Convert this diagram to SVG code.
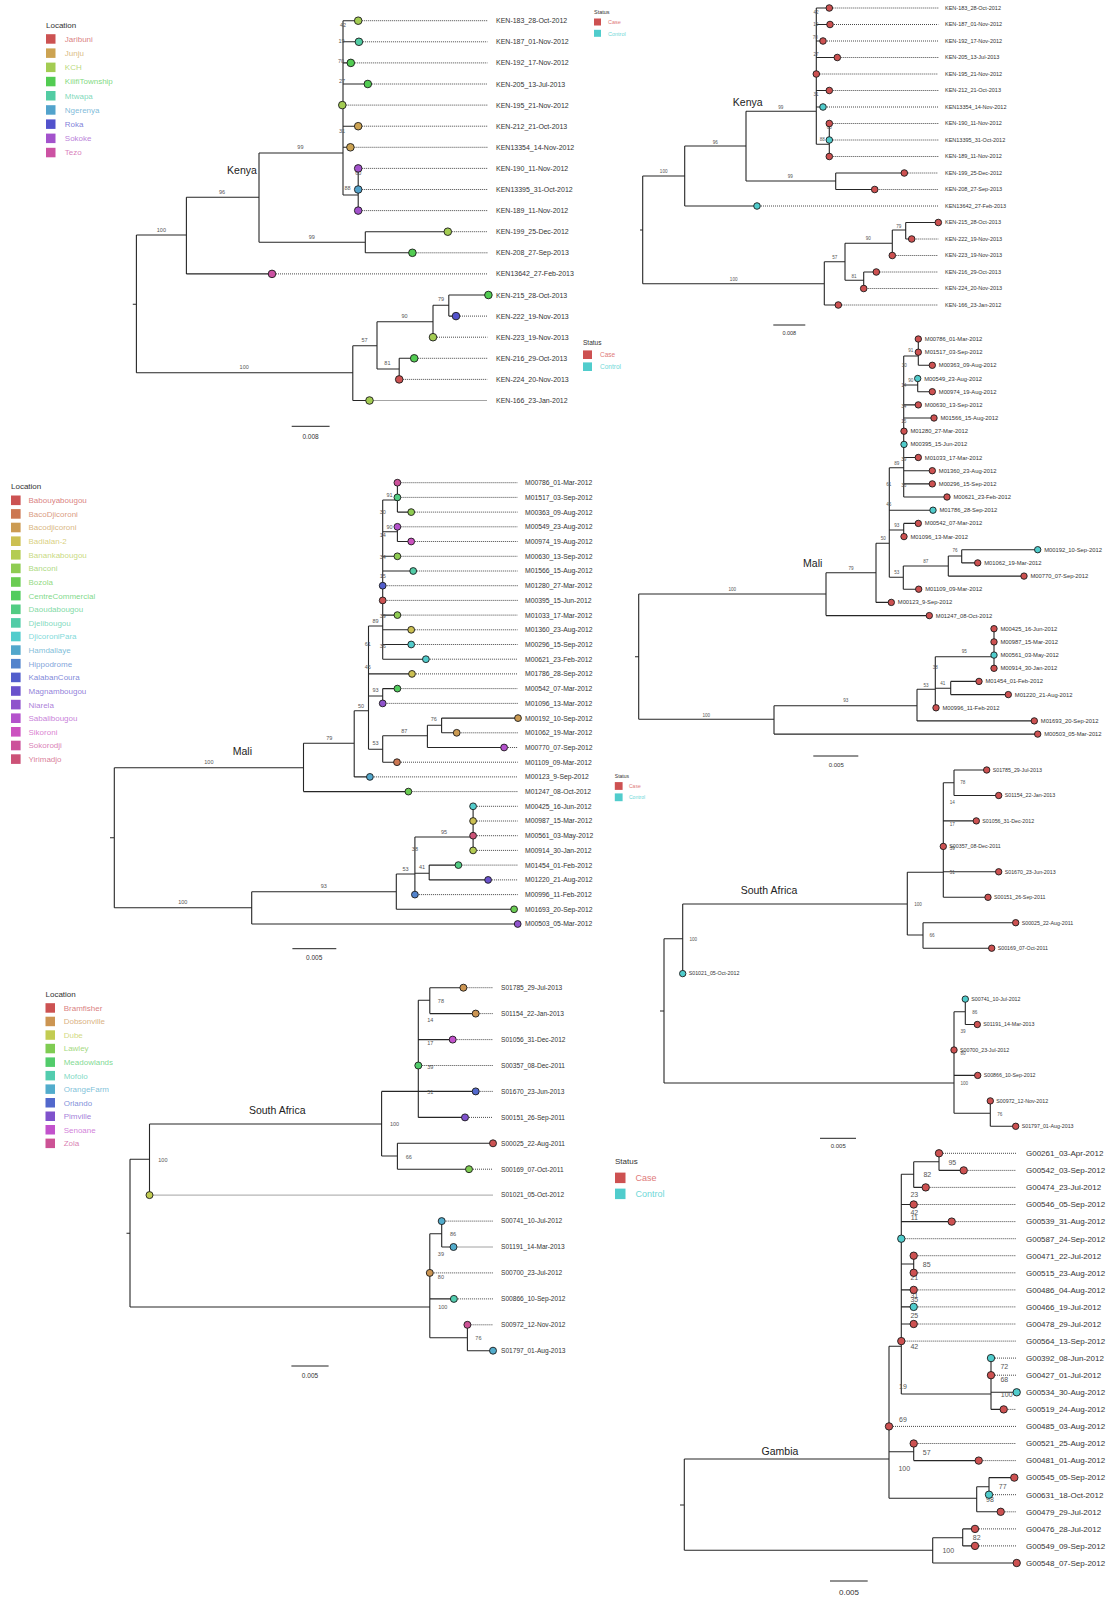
<svg xmlns="http://www.w3.org/2000/svg" width="1109" height="1600" viewBox="0 0 1109 1600">
<style>
text{font-family:"Liberation Sans",Arial,sans-serif}
.br{fill:none;stroke:#262626;stroke-width:1.1}
.dt{fill:none;stroke:#333;stroke-width:0.9;stroke-dasharray:1 1}
circle{stroke:#1a1a1a;stroke-width:0.9}
.tk{font-size:7px;fill:#333}
.tkr{font-size:5.5px;fill:#333}
.tm{font-size:6.8px;fill:#333}
.tmr{font-size:5.8px;fill:#333}
.ts{font-size:6.6px;fill:#333}
.tsr{font-size:5.3px;fill:#333}
.tg{font-size:8px;fill:#333}
.bl{fill:#555;text-anchor:middle;font-size:5.5px}
.bls{fill:#555;text-anchor:middle;font-size:4.6px}
.blg{fill:#555;text-anchor:middle;font-size:7px}
.cl{font-size:10.5px;fill:#222;text-anchor:middle}
.sc{fill:none;stroke:#222;stroke-width:1}
.lgt{font-size:8px;fill:#333}
.lg{font-size:8px;fill-opacity:0.75}
.cs{fill:#cd5151}.ct{fill:#50cccc}
.tcs{fill:#e07a7a}.tct{fill:#6fd8d8}
.k0{fill:#cc5252}.k1{fill:#cca352}.k2{fill:#a3cc52}.k3{fill:#52cc52}.k4{fill:#52cca3}.k5{fill:#52a3cc}.k6{fill:#5252cc}.k7{fill:#a352cc}.k8{fill:#cc52a3}
.m0{fill:#cc5252}.m1{fill:#cc7752}.m2{fill:#cc9b52}.m3{fill:#ccc052}.m4{fill:#b4cc52}.m5{fill:#8fcc52}.m6{fill:#6acc52}.m7{fill:#52cc5e}.m8{fill:#52cc83}.m9{fill:#52cca7}.m10{fill:#52cccc}.m11{fill:#52a7cc}.m12{fill:#5283cc}.m13{fill:#525ecc}.m14{fill:#6a52cc}.m15{fill:#8f52cc}.m16{fill:#b452cc}.m17{fill:#cc52c0}.m18{fill:#cc529b}.m19{fill:#cc5277}
.s0{fill:#cc5252}.s1{fill:#cc9552}.s2{fill:#c2cc52}.s3{fill:#7fcc52}.s4{fill:#52cc6b}.s5{fill:#52ccae}.s6{fill:#52accc}.s7{fill:#5268cc}.s8{fill:#7f52cc}.s9{fill:#c252cc}.s10{fill:#cc5295}
</style>
<rect width="1109" height="1600" fill="#fff"/>

<!-- ===== Legends ===== -->
<g id="legend-kenya-location">
<text class="lgt" x="46" y="28">Location</text>
<rect class="k0" x="46" y="34.2" width="9.5" height="9.5"/><text class="lg k0" x="64.8" y="41.8">Jaribuni</text>
<rect class="k1" x="46" y="48.4" width="9.5" height="9.5"/><text class="lg k1" x="64.8" y="56">Junju</text>
<rect class="k2" x="46" y="62.6" width="9.5" height="9.5"/><text class="lg k2" x="64.8" y="70.2">KCH</text>
<rect class="k3" x="46" y="76.8" width="9.5" height="9.5"/><text class="lg k3" x="64.8" y="84.4">KilifiTownship</text>
<rect class="k4" x="46" y="91" width="9.5" height="9.5"/><text class="lg k4" x="64.8" y="98.6">Mtwapa</text>
<rect class="k5" x="46" y="105.2" width="9.5" height="9.5"/><text class="lg k5" x="64.8" y="112.8">Ngerenya</text>
<rect class="k6" x="46" y="119.4" width="9.5" height="9.5"/><text class="lg k6" x="64.8" y="127">Roka</text>
<rect class="k7" x="46" y="133.6" width="9.5" height="9.5"/><text class="lg k7" x="64.8" y="141.2">Sokoke</text>
<rect class="k8" x="46" y="147.8" width="9.5" height="9.5"/><text class="lg k8" x="64.8" y="155.4">Tezo</text>
</g>
<g id="legend-status-1">
<text x="594" y="14" style="font-size:5.5px;fill:#333">Status</text>
<rect class="cs" x="594" y="18.5" width="7" height="7"/><text class="tcs" x="608" y="24.3" style="font-size:5.5px">Case</text>
<rect class="ct" x="594" y="29.8" width="7" height="7"/><text class="tct" x="608" y="35.6" style="font-size:5.5px">Control</text>
</g>
<g id="legend-status-2">
<text x="583" y="345" style="font-size:6.5px;fill:#333">Status</text>
<rect class="cs" x="583" y="350.4" width="9" height="8.6"/><text class="tcs" x="600" y="357" style="font-size:6.5px">Case</text>
<rect class="ct" x="583" y="362.4" width="9" height="8.6"/><text class="tct" x="600" y="369" style="font-size:6.5px">Control</text>
</g>
<g id="legend-mali-location">
<text class="lgt" x="11" y="489">Location</text>
<rect class="m0" x="11" y="495.5" width="9.6" height="9.6"/><text class="lg m0" x="28.5" y="503.2">Babouyabougou</text>
<rect class="m1" x="11" y="509.1" width="9.6" height="9.6"/><text class="lg m1" x="28.5" y="516.8">BacoDjicoroni</text>
<rect class="m2" x="11" y="522.7" width="9.6" height="9.6"/><text class="lg m2" x="28.5" y="530.4">Bacodjicoroni</text>
<rect class="m3" x="11" y="536.4" width="9.6" height="9.6"/><text class="lg m3" x="28.5" y="544.1">Badialan-2</text>
<rect class="m4" x="11" y="550" width="9.6" height="9.6"/><text class="lg m4" x="28.5" y="557.7">Banankabougou</text>
<rect class="m5" x="11" y="563.6" width="9.6" height="9.6"/><text class="lg m5" x="28.5" y="571.3">Banconi</text>
<rect class="m6" x="11" y="577.2" width="9.6" height="9.6"/><text class="lg m6" x="28.5" y="584.9">Bozola</text>
<rect class="m7" x="11" y="590.8" width="9.6" height="9.6"/><text class="lg m7" x="28.5" y="598.5">CentreCommercial</text>
<rect class="m8" x="11" y="604.5" width="9.6" height="9.6"/><text class="lg m8" x="28.5" y="612.2">Daoudabougou</text>
<rect class="m9" x="11" y="618.1" width="9.6" height="9.6"/><text class="lg m9" x="28.5" y="625.8">Djelibougou</text>
<rect class="m10" x="11" y="631.7" width="9.6" height="9.6"/><text class="lg m10" x="28.5" y="639.4">DjicoroniPara</text>
<rect class="m11" x="11" y="645.3" width="9.6" height="9.6"/><text class="lg m11" x="28.5" y="653">Hamdallaye</text>
<rect class="m12" x="11" y="658.9" width="9.6" height="9.6"/><text class="lg m12" x="28.5" y="666.6">Hippodrome</text>
<rect class="m13" x="11" y="672.6" width="9.6" height="9.6"/><text class="lg m13" x="28.5" y="680.3">KalabanCoura</text>
<rect class="m14" x="11" y="686.2" width="9.6" height="9.6"/><text class="lg m14" x="28.5" y="693.9">Magnambougou</text>
<rect class="m15" x="11" y="699.8" width="9.6" height="9.6"/><text class="lg m15" x="28.5" y="707.5">Niarela</text>
<rect class="m16" x="11" y="713.4" width="9.6" height="9.6"/><text class="lg m16" x="28.5" y="721.1">Sabalibougou</text>
<rect class="m17" x="11" y="727" width="9.6" height="9.6"/><text class="lg m17" x="28.5" y="734.7">Sikoroni</text>
<rect class="m18" x="11" y="740.7" width="9.6" height="9.6"/><text class="lg m18" x="28.5" y="748.4">Sokorodji</text>
<rect class="m19" x="11" y="754.3" width="9.6" height="9.6"/><text class="lg m19" x="28.5" y="762">Yirimadjo</text>
</g>
<g id="legend-status-3">
<text x="614.8" y="777.8" style="font-size:5px;fill:#333">Status</text>
<rect class="cs" x="614.8" y="782.1" width="7.8" height="7.8"/><text class="tcs" x="629" y="787.8" style="font-size:5px">Case</text>
<rect class="ct" x="614.8" y="793.4" width="7.8" height="7.8"/><text class="tct" x="629" y="799.1" style="font-size:5px">Control</text>
</g>
<g id="legend-sa-location">
<text class="lgt" x="45.5" y="997">Location</text>
<rect class="s0" x="45.5" y="1003.2" width="9.5" height="9.5"/><text class="lg s0" x="63.7" y="1010.8">Bramfisher</text>
<rect class="s1" x="45.5" y="1016.7" width="9.5" height="9.5"/><text class="lg s1" x="63.7" y="1024.3">Dobsonville</text>
<rect class="s2" x="45.5" y="1030.3" width="9.5" height="9.5"/><text class="lg s2" x="63.7" y="1037.9">Dube</text>
<rect class="s3" x="45.5" y="1043.8" width="9.5" height="9.5"/><text class="lg s3" x="63.7" y="1051.4">Lawley</text>
<rect class="s4" x="45.5" y="1057.4" width="9.5" height="9.5"/><text class="lg s4" x="63.7" y="1065">Meadowlands</text>
<rect class="s5" x="45.5" y="1070.9" width="9.5" height="9.5"/><text class="lg s5" x="63.7" y="1078.5">Mofolo</text>
<rect class="s6" x="45.5" y="1084.4" width="9.5" height="9.5"/><text class="lg s6" x="63.7" y="1092">OrangeFarm</text>
<rect class="s7" x="45.5" y="1098" width="9.5" height="9.5"/><text class="lg s7" x="63.7" y="1105.6">Orlando</text>
<rect class="s8" x="45.5" y="1111.5" width="9.5" height="9.5"/><text class="lg s8" x="63.7" y="1119.1">Pimville</text>
<rect class="s9" x="45.5" y="1125" width="9.5" height="9.5"/><text class="lg s9" x="63.7" y="1132.6">Senoane</text>
<rect class="s10" x="45.5" y="1138.6" width="9.5" height="9.5"/><text class="lg s10" x="63.7" y="1146.2">Zola</text>
</g>
<g id="legend-status-4">
<text x="615" y="1164" style="font-size:8px;fill:#333">Status</text>
<rect class="cs" x="615" y="1172.6" width="10.5" height="10.5"/><text class="tcs" x="635.6" y="1180.9" style="font-size:9px">Case</text>
<rect class="ct" x="615" y="1188.6" width="10.5" height="10.5"/><text class="tct" x="635.6" y="1196.9" style="font-size:9px">Control</text>
</g>

<!-- ===== Connectors (branches) ===== -->
<g id="connectors">
<path class="br" d="M132.8 304.3H136.4M136.4 235V372.7M136.4 235H186.4M186.4 197.3V273.9M186.4 197.3H259M186.4 273.9H272M259 153V242.3M259 153H343M259 242.3H365.3M365.3 231.7V252.8M365.3 231.7H447.8M365.3 252.8H412.4M343 20.7V195M343 20.7H358.2M343 41.8H358.9M343 62.9H350.8M343 84H367.8M343 126.2H358.2M343 147.3H350.4M343 195H358.2M358.2 168.4V210.6M136.4 372.7H352.8M352.8 345.7V400.5M352.8 345.7H377M352.8 400.5H369.5M377 321.7V369M377 321.7H433M377 369H399.2M433 305.3V337.2M433 305.3H448.8M448.8 295V316.1M448.8 295H488.4M448.8 316.1H456M399.2 358.3V379.4M399.2 358.3H414.2"/>
<path class="br" d="M640 230H642.7M642.7 176V283.7M642.7 176H684.7M684.7 146V206M684.7 146H746M684.7 206H757M746 111.3V181M746 111.3H816.3M746 181H835.7M835.7 173V189.5M835.7 173H904.3M835.7 189.5H874.7M816.3 8V144.3M816.3 8H829.3M816.3 24.5H830M816.3 41H823M816.3 57.5H837.3M816.3 90.5H829.3M816.3 107H823M816.3 144.3H829.3M829.3 123.5V156.5M642.7 283.7H824.3M824.3 261.7V305M824.3 261.7H845M824.3 305H838.3M845 243.3V280.3M845 243.3H892.3M845 280.3H863.7M892.3 230V255.5M892.3 230H905.7M905.7 222.5V239M905.7 222.5H938.3M905.7 239H911.7M863.7 272V288.5M863.7 272H876.3"/>
<path class="br" d="M110 837.7H114.3M114.3 767.7V907.7M114.3 767.7H303.5M303.5 743.3V791.6M303.5 743.3H354.2M303.5 791.6H408.4M354.2 710.7V776.9M354.2 710.7H368.5M354.2 776.9H369.9M368.5 626V749.3M368.5 626H382.7M368.5 673.9H412M368.5 696H382.7M382.7 688.6V703.4M382.7 688.6H397.4M368.5 749.3H382.7M382.7 735.7V762.2M382.7 735.7H427.4M382.7 762.2H397M427.4 725.2V747.5M427.4 725.2H441.6M427.4 747.5H504.1M441.6 718.1V732.8M441.6 718.1H518M441.6 732.8H456.7M382.7 500V659.2M382.7 500H397.4M397.4 482.7V512.1M397.4 512.1H411.2M382.7 531.7H397.4M397.4 526.8V541.5M397.4 541.5H411.2M382.7 556.3H397.4M382.7 571H413.2M382.7 615.1H397.4M382.7 629.8H411.2M382.7 644.5H411.2M382.7 659.2H425.9M114.3 907.7H251.7M251.7 891.7V924M251.7 891.7H396.3M251.7 924H517.7M396.3 874V909.3M396.3 874H414.9M396.3 909.3H514.1M414.9 837V894.6M414.9 837H473.1M473.1 806.3V850.4M414.9 873.3H429.2M429.2 865.1V879.9M429.2 865.1H458.4M429.2 879.9H488.1"/>
<path class="br" d="M635 656.7H638.7M638.7 594V719.3M638.7 594H826M826 572.7V615.6M826 572.7H876M826 615.6H929.3M876 543.3V602.4M876 543.3H889.3M876 602.4H891.3M889.3 467.7V577.3M889.3 467.7H903.7M889.3 510.2H933M889.3 530H903.7M903.7 523.4V536.6M903.7 523.4H918.3M889.3 577.3H903.3M903.3 566V589.2M903.3 566H948.3M903.3 589.2H918.7M948.3 556V576.1M948.3 556H961.7M948.3 576.1H1024M961.7 549.7V562.9M961.7 549.7H1037.7M961.7 562.9H977.7M903.7 356V497M903.7 356H918.3M918.3 339V365.3M918.3 365.3H932.3M903.7 385H917.7M917.7 378.5V391.7M917.7 391.7H932.3M903.7 404.9H918.3M903.7 418H934M903.7 457.5H918.3M903.7 470.7H932.3M903.7 483.9H932.3M903.7 497H947M638.7 719.3H774M774 705.7V734.1M774 705.7H917M774 734.1H1037.7M917 689.3V720.9M917 689.3H935.3M917 720.9H1034.3M935.3 656.7V707.8M935.3 656.7H994M994 628.7V668.3M935.3 688.3H950.7M950.7 681.4V694.6M950.7 681.4H979M950.7 694.6H1008.3"/>
<path class="br" d="M126.5 1233.3H130M130 1159.3V1307M130 1159.3H149.5M149.5 1124V1195.1M149.5 1124H381.6M381.6 1091.4V1156M381.6 1091.4H418.3M381.6 1156H397.4M397.4 1143.3V1169.2M397.4 1143.3H493M397.4 1169.2H469M418.3 1000.3V1117.4M418.3 1000.3H429.8M429.8 987.7V1013.6M429.8 987.7H463.4M429.8 1013.6H475.7M418.3 1039.6H452.7M418.3 1091.4H475.7M418.3 1117.4H465M130 1307H429.8M429.8 1233.7V1337.7M429.8 1233.7H441.7M441.7 1221.1V1247M441.7 1247H453.5M429.8 1298.9H453.9M429.8 1337.7H467.4M467.4 1324.8V1350.7M467.4 1350.7H493"/>
<path class="br" d="M660 1011H664M664 938.7V1083M664 938.7H682.7M682.7 904V973.6M682.7 904H907.3M907.3 872.3V935M907.3 872.3H943.3M907.3 935H923M923 922.7V948.2M923 922.7H1015.7M923 948.2H991.7M943.3 782.7V897.3M943.3 782.7H954M954 770V795.5M954 770H986.7M954 795.5H998.7M943.3 820.9H976.3M943.3 871.8H998.7M943.3 897.3H988M664 1083H954M954 1011.7V1113.3M954 1011.7H965.3M965.3 999.1V1024.5M965.3 1024.5H977.3M954 1075.4H977.7M954 1113.3H990.3M990.3 1100.9V1126.3M990.3 1126.3H1015.7"/>
<path class="br" d="M680 1505H684.3M684.3 1459V1550.3M684.3 1459H889M889 1346.3V1498.3M889 1346.3H901.3M889 1451.7H913.7M913.7 1443.5V1460.6M913.7 1460.6H978.7M889 1498.3H976.7M976.7 1486.7V1511.8M976.7 1486.7H989M989 1477.6V1494.7M989 1477.6H1014.3M976.7 1511.8H1000.7M901.3 1174.3V1394M901.3 1174.3H913.7M913.7 1161.7V1187.4M913.7 1161.7H939M939 1153.3V1170.4M939 1170.4H963.7M913.7 1187.4H925.7M901.3 1204.5H913.7M901.3 1221.6H951.7M901.3 1264H913.7M913.7 1255.7V1272.8M901.3 1289.9H913.7M901.3 1306.9H913.7M901.3 1324H913.7M901.3 1394H991M991 1358.1V1409.4M991 1392.3H1016.7M991 1409.4H1003.7M684.3 1550.3H932.7M932.7 1537.7V1563M932.7 1537.7H962.7M962.7 1528.9V1545.9M962.7 1528.9H975M962.7 1545.9H975M932.7 1563H1016.7"/>
</g>

<!-- ===== Branch labels, clade labels, scale bars ===== -->
<g id="kenyaL-annot">
<text class="bl" x="343" y="27.4">42</text><text class="bl" x="341.5" y="42.9">19</text><text class="bl" x="341" y="62.9">70</text><text class="bl" x="342" y="82.9">27</text><text class="bl" x="342" y="132.9">31</text><text class="bl" x="300.4" y="148.6">99</text><text class="bl" x="347.5" y="190.4">88</text><text class="bl" x="358.2" y="174.6">60</text><text class="bl" x="222" y="194.2">96</text><text class="bl" x="161.4" y="231.9">100</text><text class="bl" x="311.7" y="238.6">99</text><text class="bl" x="244.2" y="368.6">100</text><text class="bl" x="364.5" y="341.9">57</text><text class="bl" x="404.5" y="317.9">90</text><text class="bl" x="441" y="301.2">79</text><text class="bl" x="387.4" y="364.9">81</text>
<text class="cl" x="242" y="173.8">Kenya</text>
<path class="sc" d="M291.7 426.3H329.6"/><text x="310.6" y="439" style="font-size:6.5px;fill:#333;text-anchor:middle">0.008</text>
</g>
<g id="kenyaR-annot">
<text class="bls" x="816" y="13.9">42</text><text class="bls" x="815.7" y="25.6">19</text><text class="bls" x="815.3" y="39.3">70</text><text class="bls" x="816" y="55.6">27</text><text class="bls" x="816" y="95.6">31</text><text class="bls" x="822.3" y="140.6">88</text><text class="bls" x="829.3" y="128.6">60</text><text class="bls" x="780.7" y="108.6">99</text><text class="bls" x="790.3" y="177.6">99</text><text class="bls" x="715.3" y="143.6">96</text><text class="bls" x="663.7" y="172.6">100</text><text class="bls" x="733.7" y="280.6">100</text><text class="bls" x="834.7" y="258.6">57</text><text class="bls" x="868.3" y="239.6">90</text><text class="bls" x="854" y="277.9">81</text><text class="bls" x="898.7" y="227.6">79</text>
<text class="cl" x="747.7" y="106">Kenya</text>
<path class="sc" d="M773.3 325H805.3"/><text x="789.3" y="334.7" style="font-size:5.5px;fill:#333;text-anchor:middle">0.008</text>
</g>
<g id="maliL-annot">
<text class="bl" x="389.5" y="496.9">91</text><text class="bl" x="382.7" y="513.6">30</text><text class="bl" x="389.5" y="529.2">90</text><text class="bl" x="382.7" y="536.9">14</text><text class="bl" x="382.7" y="559.2">34</text><text class="bl" x="382.7" y="577.9">15</text><text class="bl" x="382.7" y="617.9">39</text><text class="bl" x="375.6" y="622.9">89</text><text class="bl" x="382.7" y="647.6">36</text><text class="bl" x="367.7" y="646.2">61</text><text class="bl" x="367.7" y="668.6">45</text><text class="bl" x="375.6" y="691.9">93</text><text class="bl" x="361" y="707.9">50</text><text class="bl" x="433.7" y="721.2">76</text><text class="bl" x="404.2" y="732.9">87</text><text class="bl" x="375.6" y="744.6">53</text><text class="bl" x="329.2" y="739.6">79</text><text class="bl" x="208.9" y="763.9">100</text><text class="bl" x="182.8" y="903.9">100</text><text class="bl" x="323.8" y="887.6">93</text><text class="bl" x="405.6" y="870.9">53</text><text class="bl" x="444.1" y="834.2">95</text><text class="bl" x="414.9" y="850.9">38</text><text class="bl" x="422" y="868.6">41</text>
<text class="cl" x="242.4" y="755.4">Mali</text>
<path class="sc" d="M292.4 948.7H336.3"/><text x="314.2" y="959.8" style="font-size:6.5px;fill:#333;text-anchor:middle">0.005</text>
</g>
<g id="maliR-annot">
<text class="bls" x="910.7" y="351.6">91</text><text class="bls" x="904.3" y="366.6">30</text><text class="bls" x="910.7" y="381.6">90</text><text class="bls" x="903.7" y="386.6">14</text><text class="bls" x="903.7" y="407.6">34</text><text class="bls" x="903.7" y="423.3">15</text><text class="bls" x="903.7" y="460.9">39</text><text class="bls" x="896.7" y="464.9">89</text><text class="bls" x="903.7" y="486.6">36</text><text class="bls" x="888.7" y="485.6">61</text><text class="bls" x="888.7" y="505.9">45</text><text class="bls" x="896.7" y="526.6">93</text><text class="bls" x="883.3" y="539.9">50</text><text class="bls" x="955" y="552.3">76</text><text class="bls" x="925.7" y="562.6">87</text><text class="bls" x="896.7" y="573.9">53</text><text class="bls" x="851" y="569.6">79</text><text class="bls" x="732.3" y="590.6">100</text><text class="bls" x="706.3" y="716.6">100</text><text class="bls" x="845.7" y="701.6">93</text><text class="bls" x="926" y="686.6">53</text><text class="bls" x="935.3" y="668.9">38</text><text class="bls" x="964.3" y="652.6">95</text><text class="bls" x="942.7" y="684.9">41</text>
<text class="cl" x="812.7" y="567">Mali</text>
<path class="sc" d="M813.3 756H858.3"/><text x="836.3" y="766.7" style="font-size:6px;fill:#333;text-anchor:middle">0.005</text>
</g>
<g id="saL-annot">
<text class="bl" x="440.9" y="1002.6">78</text><text class="bl" x="430.2" y="1021.9">14</text><text class="bl" x="430.2" y="1044.6">17</text><text class="bl" x="430.2" y="1069.2">39</text><text class="bl" x="430.2" y="1094.2">51</text><text class="bl" x="394.6" y="1125.9">100</text><text class="bl" x="408.8" y="1158.9">66</text><text class="bl" x="162.9" y="1161.9">100</text><text class="bl" x="453.1" y="1235.9">86</text><text class="bl" x="440.9" y="1255.9">39</text><text class="bl" x="440.9" y="1278.6">80</text><text class="bl" x="442.8" y="1308.9">100</text><text class="bl" x="478.4" y="1339.6">76</text>
<text class="cl" x="277.2" y="1114.4">South Africa</text>
<path class="sc" d="M291.4 1366H328.6"/><text x="310" y="1377.6" style="font-size:6.5px;fill:#333;text-anchor:middle">0.005</text>
</g>
<g id="saR-annot">
<text class="bls" x="962.7" y="783.6">78</text><text class="bls" x="952.3" y="803.9">14</text><text class="bls" x="952.3" y="825.6">17</text><text class="bls" x="952.3" y="849.9">39</text><text class="bls" x="952.3" y="873.6">51</text><text class="bls" x="918" y="905.6">100</text><text class="bls" x="932" y="936.6">66</text><text class="bls" x="693.3" y="940.6">100</text><text class="bls" x="974.7" y="1013.9">86</text><text class="bls" x="963" y="1032.6">39</text><text class="bls" x="963" y="1054.9">80</text><text class="bls" x="964.3" y="1084.6">100</text><text class="bls" x="999.7" y="1115.6">76</text>
<text class="cl" x="769" y="893.7">South Africa</text>
<path class="sc" d="M820 1138.3H856"/><text x="838.3" y="1148" style="font-size:6px;fill:#333;text-anchor:middle">0.005</text>
</g>
<g id="gambia-annot">
<text class="blg" x="952.3" y="1164.7">95</text><text class="blg" x="927.3" y="1176.7">82</text><text class="blg" x="914.3" y="1197.1">23</text><text class="blg" x="914.3" y="1214.7">42</text><text class="blg" x="914.3" y="1219.7">11</text><text class="blg" x="926.7" y="1267.1">85</text><text class="blg" x="914.3" y="1279.7">21</text><text class="blg" x="914.3" y="1298.1">31</text><text class="blg" x="914.3" y="1301.7">35</text><text class="blg" x="914.3" y="1318.1">25</text><text class="blg" x="914.3" y="1349.1">42</text><text class="blg" x="1004.3" y="1368.7">72</text><text class="blg" x="1004.3" y="1381.7">68</text><text class="blg" x="1006.7" y="1397.1">100</text><text class="blg" x="903" y="1388.7">19</text><text class="blg" x="903" y="1422.1">69</text><text class="blg" x="926.7" y="1455.1">57</text><text class="blg" x="904.3" y="1471.4">100</text><text class="blg" x="1002.7" y="1489.1">77</text><text class="blg" x="990" y="1502.4">98</text><text class="blg" x="948.3" y="1553.1">100</text><text class="blg" x="976.7" y="1540.1">82</text>
<text class="cl" x="780" y="1455.4">Gambia</text>
<path class="sc" d="M830 1581H867.7"/><text x="849" y="1594.5" style="font-size:8px;fill:#333;text-anchor:middle">0.005</text>
</g>

<!-- ===== Kenya (location) tips ===== -->
<g id="kl-KEN-183"><path class="dt" d="M358.2 20.7H487.4"/><circle class="k2" cx="358.2" cy="20.7" r="3.8"/><text class="tk" x="496" y="23.2">KEN-183_28-Oct-2012</text></g>
<g id="kl-KEN-187"><path class="dt" d="M358.9 41.8H487.4"/><circle class="k4" cx="358.9" cy="41.8" r="3.8"/><text class="tk" x="496" y="44.3">KEN-187_01-Nov-2012</text></g>
<g id="kl-KEN-192"><path class="dt" d="M350.8 62.9H487.4"/><circle class="k3" cx="350.8" cy="62.9" r="3.8"/><text class="tk" x="496" y="65.4">KEN-192_17-Nov-2012</text></g>
<g id="kl-KEN-205"><path class="dt" d="M367.8 84H487.4"/><circle class="k3" cx="367.8" cy="84" r="3.8"/><text class="tk" x="496" y="86.5">KEN-205_13-Jul-2013</text></g>
<g id="kl-KEN-195"><path class="dt" d="M342.3 105.1H487.4"/><circle class="k2" cx="342.3" cy="105.1" r="3.8"/><text class="tk" x="496" y="107.6">KEN-195_21-Nov-2012</text></g>
<g id="kl-KEN-212"><path class="dt" d="M358.2 126.2H487.4"/><circle class="k1" cx="358.2" cy="126.2" r="3.8"/><text class="tk" x="496" y="128.7">KEN-212_21-Oct-2013</text></g>
<g id="kl-KEN13354"><path class="dt" d="M350.4 147.3H487.4"/><circle class="k1" cx="350.4" cy="147.3" r="3.8"/><text class="tk" x="496" y="149.8">KEN13354_14-Nov-2012</text></g>
<g id="kl-KEN-190"><path class="dt" d="M358.2 168.4H487.4"/><circle class="k7" cx="358.2" cy="168.4" r="3.8"/><text class="tk" x="496" y="170.9">KEN-190_11-Nov-2012</text></g>
<g id="kl-KEN13395"><path class="dt" d="M358.2 189.5H487.4"/><circle class="k5" cx="358.2" cy="189.5" r="3.8"/><text class="tk" x="496" y="192">KEN13395_31-Oct-2012</text></g>
<g id="kl-KEN-189"><path class="dt" d="M358.2 210.6H487.4"/><circle class="k7" cx="358.2" cy="210.6" r="3.8"/><text class="tk" x="496" y="213.1">KEN-189_11-Nov-2012</text></g>
<g id="kl-KEN-199"><path class="dt" d="M447.8 231.7H487.4"/><circle class="k2" cx="447.8" cy="231.7" r="3.8"/><text class="tk" x="496" y="234.2">KEN-199_25-Dec-2012</text></g>
<g id="kl-KEN-208"><path class="dt" d="M412.4 252.8H487.4"/><circle class="k3" cx="412.4" cy="252.8" r="3.8"/><text class="tk" x="496" y="255.3">KEN-208_27-Sep-2013</text></g>
<g id="kl-KEN13642"><path class="dt" d="M272 273.9H487.4"/><circle class="k8" cx="272" cy="273.9" r="3.8"/><text class="tk" x="496" y="276.4">KEN13642_27-Feb-2013</text></g>
<g id="kl-KEN-215"><circle class="k3" cx="488.4" cy="295" r="3.8"/><text class="tk" x="496" y="297.5">KEN-215_28-Oct-2013</text></g>
<g id="kl-KEN-222"><path class="dt" d="M456 316.1H487.4"/><circle class="k6" cx="456" cy="316.1" r="3.8"/><text class="tk" x="496" y="318.6">KEN-222_19-Nov-2013</text></g>
<g id="kl-KEN-223"><path class="dt" d="M433 337.2H487.4"/><circle class="k2" cx="433" cy="337.2" r="3.8"/><text class="tk" x="496" y="339.7">KEN-223_19-Nov-2013</text></g>
<g id="kl-KEN-216"><path class="dt" d="M414.2 358.3H487.4"/><circle class="k3" cx="414.2" cy="358.3" r="3.8"/><text class="tk" x="496" y="360.8">KEN-216_29-Oct-2013</text></g>
<g id="kl-KEN-224"><path class="dt" d="M399.2 379.4H487.4"/><circle class="k0" cx="399.2" cy="379.4" r="3.8"/><text class="tk" x="496" y="381.9">KEN-224_20-Nov-2013</text></g>
<g id="kl-KEN-166"><path class="dt" d="M369.5 400.5H487.4"/><circle class="k2" cx="369.5" cy="400.5" r="3.8"/><text class="tk" x="496" y="403">KEN-166_23-Jan-2012</text></g>

<!-- ===== Kenya (status) tips ===== -->
<g id="kr-KEN-183"><path class="dt" d="M829.3 8H938.3"/><circle class="cs" cx="829.3" cy="8" r="3.3"/><text class="tkr" x="945" y="9.9">KEN-183_28-Oct-2012</text></g>
<g id="kr-KEN-187"><path class="dt" d="M830 24.5H938.3"/><circle class="cs" cx="830" cy="24.5" r="3.3"/><text class="tkr" x="945" y="26.4">KEN-187_01-Nov-2012</text></g>
<g id="kr-KEN-192"><path class="dt" d="M823 41H938.3"/><circle class="cs" cx="823" cy="41" r="3.3"/><text class="tkr" x="945" y="42.9">KEN-192_17-Nov-2012</text></g>
<g id="kr-KEN-205"><path class="dt" d="M837.3 57.5H938.3"/><circle class="cs" cx="837.3" cy="57.5" r="3.3"/><text class="tkr" x="945" y="59.4">KEN-205_13-Jul-2013</text></g>
<g id="kr-KEN-195"><path class="dt" d="M816.3 74H938.3"/><circle class="cs" cx="816.3" cy="74" r="3.3"/><text class="tkr" x="945" y="75.9">KEN-195_21-Nov-2012</text></g>
<g id="kr-KEN-212"><path class="dt" d="M829.3 90.5H938.3"/><circle class="cs" cx="829.3" cy="90.5" r="3.3"/><text class="tkr" x="945" y="92.4">KEN-212_21-Oct-2013</text></g>
<g id="kr-KEN13354"><path class="dt" d="M823 107H938.3"/><circle class="ct" cx="823" cy="107" r="3.3"/><text class="tkr" x="945" y="108.9">KEN13354_14-Nov-2012</text></g>
<g id="kr-KEN-190"><path class="dt" d="M829.3 123.5H938.3"/><circle class="cs" cx="829.3" cy="123.5" r="3.3"/><text class="tkr" x="945" y="125.4">KEN-190_11-Nov-2012</text></g>
<g id="kr-KEN13395"><path class="dt" d="M829.3 140H938.3"/><circle class="ct" cx="829.3" cy="140" r="3.3"/><text class="tkr" x="945" y="141.9">KEN13395_31-Oct-2012</text></g>
<g id="kr-KEN-189"><path class="dt" d="M829.3 156.5H938.3"/><circle class="cs" cx="829.3" cy="156.5" r="3.3"/><text class="tkr" x="945" y="158.4">KEN-189_11-Nov-2012</text></g>
<g id="kr-KEN-199"><path class="dt" d="M904.3 173H938.3"/><circle class="cs" cx="904.3" cy="173" r="3.3"/><text class="tkr" x="945" y="174.9">KEN-199_25-Dec-2012</text></g>
<g id="kr-KEN-208"><path class="dt" d="M874.7 189.5H938.3"/><circle class="cs" cx="874.7" cy="189.5" r="3.3"/><text class="tkr" x="945" y="191.4">KEN-208_27-Sep-2013</text></g>
<g id="kr-KEN13642"><path class="dt" d="M757 206H938.3"/><circle class="ct" cx="757" cy="206" r="3.3"/><text class="tkr" x="945" y="207.9">KEN13642_27-Feb-2013</text></g>
<g id="kr-KEN-215"><circle class="cs" cx="938.3" cy="222.5" r="3.3"/><text class="tkr" x="945" y="224.4">KEN-215_28-Oct-2013</text></g>
<g id="kr-KEN-222"><path class="dt" d="M911.7 239H938.3"/><circle class="cs" cx="911.7" cy="239" r="3.3"/><text class="tkr" x="945" y="240.9">KEN-222_19-Nov-2013</text></g>
<g id="kr-KEN-223"><path class="dt" d="M892.3 255.5H938.3"/><circle class="cs" cx="892.3" cy="255.5" r="3.3"/><text class="tkr" x="945" y="257.4">KEN-223_19-Nov-2013</text></g>
<g id="kr-KEN-216"><path class="dt" d="M876.3 272H938.3"/><circle class="cs" cx="876.3" cy="272" r="3.3"/><text class="tkr" x="945" y="273.9">KEN-216_29-Oct-2013</text></g>
<g id="kr-KEN-224"><path class="dt" d="M863.7 288.5H938.3"/><circle class="cs" cx="863.7" cy="288.5" r="3.3"/><text class="tkr" x="945" y="290.4">KEN-224_20-Nov-2013</text></g>
<g id="kr-KEN-166"><path class="dt" d="M838.3 305H938.3"/><circle class="cs" cx="838.3" cy="305" r="3.3"/><text class="tkr" x="945" y="306.9">KEN-166_23-Jan-2012</text></g>

<!-- ===== Mali (location) tips ===== -->
<g id="ml-M00786"><path class="dt" d="M397.4 482.7H517.7"/><circle class="m18" cx="397.4" cy="482.7" r="3.4"/><text class="tm" x="525" y="485.1">M00786_01-Mar-2012</text></g>
<g id="ml-M01517"><path class="dt" d="M397.4 497.4H517.7"/><circle class="m8" cx="397.4" cy="497.4" r="3.4"/><text class="tm" x="525" y="499.8">M01517_03-Sep-2012</text></g>
<g id="ml-M00363"><path class="dt" d="M411.2 512.1H517.7"/><circle class="m5" cx="411.2" cy="512.1" r="3.4"/><text class="tm" x="525" y="514.5">M00363_09-Aug-2012</text></g>
<g id="ml-M00549"><path class="dt" d="M397.4 526.8H517.7"/><circle class="m16" cx="397.4" cy="526.8" r="3.4"/><text class="tm" x="525" y="529.2">M00549_23-Aug-2012</text></g>
<g id="ml-M00974"><path class="dt" d="M411.2 541.5H517.7"/><circle class="m17" cx="411.2" cy="541.5" r="3.4"/><text class="tm" x="525" y="543.9">M00974_19-Aug-2012</text></g>
<g id="ml-M00630"><path class="dt" d="M397.4 556.3H517.7"/><circle class="m5" cx="397.4" cy="556.3" r="3.4"/><text class="tm" x="525" y="558.7">M00630_13-Sep-2012</text></g>
<g id="ml-M01566"><path class="dt" d="M413.2 571H517.7"/><circle class="m9" cx="413.2" cy="571" r="3.4"/><text class="tm" x="525" y="573.4">M01566_15-Aug-2012</text></g>
<g id="ml-M01280"><path class="dt" d="M382.7 585.7H517.7"/><circle class="m13" cx="382.7" cy="585.7" r="3.4"/><text class="tm" x="525" y="588.1">M01280_27-Mar-2012</text></g>
<g id="ml-M00395"><path class="dt" d="M382.7 600.4H517.7"/><circle class="m0" cx="382.7" cy="600.4" r="3.4"/><text class="tm" x="525" y="602.8">M00395_15-Jun-2012</text></g>
<g id="ml-M01033"><path class="dt" d="M397.4 615.1H517.7"/><circle class="m5" cx="397.4" cy="615.1" r="3.4"/><text class="tm" x="525" y="617.5">M01033_17-Mar-2012</text></g>
<g id="ml-M01360"><path class="dt" d="M411.2 629.8H517.7"/><circle class="m3" cx="411.2" cy="629.8" r="3.4"/><text class="tm" x="525" y="632.2">M01360_23-Aug-2012</text></g>
<g id="ml-M00296"><path class="dt" d="M411.2 644.5H517.7"/><circle class="m10" cx="411.2" cy="644.5" r="3.4"/><text class="tm" x="525" y="646.9">M00296_15-Sep-2012</text></g>
<g id="ml-M00621"><path class="dt" d="M425.9 659.2H517.7"/><circle class="m10" cx="425.9" cy="659.2" r="3.4"/><text class="tm" x="525" y="661.6">M00621_23-Feb-2012</text></g>
<g id="ml-M01786"><path class="dt" d="M412 673.9H517.7"/><circle class="m3" cx="412" cy="673.9" r="3.4"/><text class="tm" x="525" y="676.3">M01786_28-Sep-2012</text></g>
<g id="ml-M00542"><path class="dt" d="M397.4 688.6H517.7"/><circle class="m7" cx="397.4" cy="688.6" r="3.4"/><text class="tm" x="525" y="691">M00542_07-Mar-2012</text></g>
<g id="ml-M01096"><path class="dt" d="M382.7 703.4H517.7"/><circle class="m15" cx="382.7" cy="703.4" r="3.4"/><text class="tm" x="525" y="705.8">M01096_13-Mar-2012</text></g>
<g id="ml-M00192"><circle class="m2" cx="518" cy="718.1" r="3.4"/><text class="tm" x="525" y="720.5">M00192_10-Sep-2012</text></g>
<g id="ml-M01062"><path class="dt" d="M456.7 732.8H517.7"/><circle class="m2" cx="456.7" cy="732.8" r="3.4"/><text class="tm" x="525" y="735.2">M01062_19-Mar-2012</text></g>
<g id="ml-M00770"><path class="dt" d="M504.1 747.5H517.7"/><circle class="m16" cx="504.1" cy="747.5" r="3.4"/><text class="tm" x="525" y="749.9">M00770_07-Sep-2012</text></g>
<g id="ml-M01109"><path class="dt" d="M397 762.2H517.7"/><circle class="m1" cx="397" cy="762.2" r="3.4"/><text class="tm" x="525" y="764.6">M01109_09-Mar-2012</text></g>
<g id="ml-M00123"><path class="dt" d="M369.9 776.9H517.7"/><circle class="m11" cx="369.9" cy="776.9" r="3.4"/><text class="tm" x="525" y="779.3">M00123_9-Sep-2012</text></g>
<g id="ml-M01247"><path class="dt" d="M408.4 791.6H517.7"/><circle class="m6" cx="408.4" cy="791.6" r="3.4"/><text class="tm" x="525" y="794">M01247_08-Oct-2012</text></g>
<g id="ml-M00425"><path class="dt" d="M473.1 806.3H517.7"/><circle class="m10" cx="473.1" cy="806.3" r="3.4"/><text class="tm" x="525" y="808.7">M00425_16-Jun-2012</text></g>
<g id="ml-M00987"><path class="dt" d="M473.1 821H517.7"/><circle class="m3" cx="473.1" cy="821" r="3.4"/><text class="tm" x="525" y="823.4">M00987_15-Mar-2012</text></g>
<g id="ml-M00561"><path class="dt" d="M473.1 835.7H517.7"/><circle class="m19" cx="473.1" cy="835.7" r="3.4"/><text class="tm" x="525" y="838.1">M00561_03-May-2012</text></g>
<g id="ml-M00914"><path class="dt" d="M473.1 850.4H517.7"/><circle class="m4" cx="473.1" cy="850.4" r="3.4"/><text class="tm" x="525" y="852.8">M00914_30-Jan-2012</text></g>
<g id="ml-M01454"><path class="dt" d="M458.4 865.1H517.7"/><circle class="m8" cx="458.4" cy="865.1" r="3.4"/><text class="tm" x="525" y="867.5">M01454_01-Feb-2012</text></g>
<g id="ml-M01220"><path class="dt" d="M488.1 879.9H517.7"/><circle class="m14" cx="488.1" cy="879.9" r="3.4"/><text class="tm" x="525" y="882.3">M01220_21-Aug-2012</text></g>
<g id="ml-M00996"><path class="dt" d="M414.9 894.6H517.7"/><circle class="m12" cx="414.9" cy="894.6" r="3.4"/><text class="tm" x="525" y="897">M00996_11-Feb-2012</text></g>
<g id="ml-M01693"><path class="dt" d="M514.1 909.3H517.7"/><circle class="m6" cx="514.1" cy="909.3" r="3.4"/><text class="tm" x="525" y="911.7">M01693_20-Sep-2012</text></g>
<g id="ml-M00503"><circle class="m15" cx="517.7" cy="924" r="3.4"/><text class="tm" x="525" y="926.4">M00503_05-Mar-2012</text></g>

<!-- ===== Mali (status) tips ===== -->
<g id="mr-M00786"><circle class="cs" cx="918.3" cy="339" r="3.2"/><text class="tmr" x="924.8" y="341">M00786_01-Mar-2012</text></g>
<g id="mr-M01517"><circle class="cs" cx="918.3" cy="352.2" r="3.2"/><text class="tmr" x="924.8" y="354.2">M01517_03-Sep-2012</text></g>
<g id="mr-M00363"><circle class="cs" cx="932.3" cy="365.3" r="3.2"/><text class="tmr" x="938.8" y="367.3">M00363_09-Aug-2012</text></g>
<g id="mr-M00549"><circle class="ct" cx="917.7" cy="378.5" r="3.2"/><text class="tmr" x="924.2" y="380.5">M00549_23-Aug-2012</text></g>
<g id="mr-M00974"><circle class="cs" cx="932.3" cy="391.7" r="3.2"/><text class="tmr" x="938.8" y="393.7">M00974_19-Aug-2012</text></g>
<g id="mr-M00630"><circle class="cs" cx="918.3" cy="404.9" r="3.2"/><text class="tmr" x="924.8" y="406.9">M00630_13-Sep-2012</text></g>
<g id="mr-M01566"><circle class="cs" cx="934" cy="418" r="3.2"/><text class="tmr" x="940.5" y="420">M01566_15-Aug-2012</text></g>
<g id="mr-M01280"><circle class="cs" cx="904" cy="431.2" r="3.2"/><text class="tmr" x="910.5" y="433.2">M01280_27-Mar-2012</text></g>
<g id="mr-M00395"><circle class="ct" cx="904" cy="444.4" r="3.2"/><text class="tmr" x="910.5" y="446.4">M00395_15-Jun-2012</text></g>
<g id="mr-M01033"><circle class="cs" cx="918.3" cy="457.5" r="3.2"/><text class="tmr" x="924.8" y="459.5">M01033_17-Mar-2012</text></g>
<g id="mr-M01360"><circle class="cs" cx="932.3" cy="470.7" r="3.2"/><text class="tmr" x="938.8" y="472.7">M01360_23-Aug-2012</text></g>
<g id="mr-M00296"><circle class="cs" cx="932.3" cy="483.9" r="3.2"/><text class="tmr" x="938.8" y="485.9">M00296_15-Sep-2012</text></g>
<g id="mr-M00621"><circle class="cs" cx="947" cy="497" r="3.2"/><text class="tmr" x="953.5" y="499">M00621_23-Feb-2012</text></g>
<g id="mr-M01786"><circle class="ct" cx="933" cy="510.2" r="3.2"/><text class="tmr" x="939.5" y="512.2">M01786_28-Sep-2012</text></g>
<g id="mr-M00542"><circle class="cs" cx="918.3" cy="523.4" r="3.2"/><text class="tmr" x="924.8" y="525.4">M00542_07-Mar-2012</text></g>
<g id="mr-M01096"><circle class="cs" cx="904" cy="536.6" r="3.2"/><text class="tmr" x="910.5" y="538.6">M01096_13-Mar-2012</text></g>
<g id="mr-M00192"><circle class="ct" cx="1037.7" cy="549.7" r="3.2"/><text class="tmr" x="1044.2" y="551.7">M00192_10-Sep-2012</text></g>
<g id="mr-M01062"><circle class="cs" cx="977.7" cy="562.9" r="3.2"/><text class="tmr" x="984.2" y="564.9">M01062_19-Mar-2012</text></g>
<g id="mr-M00770"><circle class="cs" cx="1024" cy="576.1" r="3.2"/><text class="tmr" x="1030.5" y="578.1">M00770_07-Sep-2012</text></g>
<g id="mr-M01109"><circle class="cs" cx="918.7" cy="589.2" r="3.2"/><text class="tmr" x="925.2" y="591.2">M01109_09-Mar-2012</text></g>
<g id="mr-M00123"><circle class="cs" cx="891.3" cy="602.4" r="3.2"/><text class="tmr" x="897.8" y="604.4">M00123_9-Sep-2012</text></g>
<g id="mr-M01247"><circle class="cs" cx="929.3" cy="615.6" r="3.2"/><text class="tmr" x="935.8" y="617.6">M01247_08-Oct-2012</text></g>
<g id="mr-M00425"><circle class="cs" cx="994" cy="628.7" r="3.2"/><text class="tmr" x="1000.5" y="630.7">M00425_16-Jun-2012</text></g>
<g id="mr-M00987"><circle class="cs" cx="994" cy="641.9" r="3.2"/><text class="tmr" x="1000.5" y="643.9">M00987_15-Mar-2012</text></g>
<g id="mr-M00561"><circle class="ct" cx="994" cy="655.1" r="3.2"/><text class="tmr" x="1000.5" y="657.1">M00561_03-May-2012</text></g>
<g id="mr-M00914"><circle class="cs" cx="994" cy="668.3" r="3.2"/><text class="tmr" x="1000.5" y="670.3">M00914_30-Jan-2012</text></g>
<g id="mr-M01454"><circle class="cs" cx="979" cy="681.4" r="3.2"/><text class="tmr" x="985.5" y="683.4">M01454_01-Feb-2012</text></g>
<g id="mr-M01220"><circle class="cs" cx="1008.3" cy="694.6" r="3.2"/><text class="tmr" x="1014.8" y="696.6">M01220_21-Aug-2012</text></g>
<g id="mr-M00996"><circle class="cs" cx="936" cy="707.8" r="3.2"/><text class="tmr" x="942.5" y="709.8">M00996_11-Feb-2012</text></g>
<g id="mr-M01693"><circle class="cs" cx="1034.3" cy="720.9" r="3.2"/><text class="tmr" x="1040.8" y="722.9">M01693_20-Sep-2012</text></g>
<g id="mr-M00503"><circle class="cs" cx="1037.7" cy="734.1" r="3.2"/><text class="tmr" x="1044.2" y="736.1">M00503_05-Mar-2012</text></g>

<!-- ===== South Africa (location) tips ===== -->
<g id="sl-S01785"><path class="dt" d="M463.4 987.7H493"/><circle class="s1" cx="463.4" cy="987.7" r="3.5"/><text class="ts" x="501" y="990">S01785_29-Jul-2013</text></g>
<g id="sl-S01154"><path class="dt" d="M475.7 1013.6H493"/><circle class="s1" cx="475.7" cy="1013.6" r="3.5"/><text class="ts" x="501" y="1015.9">S01154_22-Jan-2013</text></g>
<g id="sl-S01056"><path class="dt" d="M452.7 1039.6H493"/><circle class="s9" cx="452.7" cy="1039.6" r="3.5"/><text class="ts" x="501" y="1041.9">S01056_31-Dec-2012</text></g>
<g id="sl-S00357"><path class="dt" d="M418.3 1065.5H493"/><circle class="s4" cx="418.3" cy="1065.5" r="3.5"/><text class="ts" x="501" y="1067.8">S00357_08-Dec-2011</text></g>
<g id="sl-S01670"><path class="dt" d="M475.7 1091.4H493"/><circle class="s7" cx="475.7" cy="1091.4" r="3.5"/><text class="ts" x="501" y="1093.7">S01670_23-Jun-2013</text></g>
<g id="sl-S00151"><path class="dt" d="M465 1117.4H493"/><circle class="s8" cx="465" cy="1117.4" r="3.5"/><text class="ts" x="501" y="1119.7">S00151_26-Sep-2011</text></g>
<g id="sl-S00025"><circle class="s0" cx="493" cy="1143.3" r="3.5"/><text class="ts" x="501" y="1145.6">S00025_22-Aug-2011</text></g>
<g id="sl-S00169"><path class="dt" d="M469 1169.2H493"/><circle class="s3" cx="469" cy="1169.2" r="3.5"/><text class="ts" x="501" y="1171.5">S00169_07-Oct-2011</text></g>
<g id="sl-S01021"><path class="dt" d="M149.5 1195.1H493"/><circle class="s2" cx="149.5" cy="1195.1" r="3.5"/><text class="ts" x="501" y="1197.4">S01021_05-Oct-2012</text></g>
<g id="sl-S00741"><path class="dt" d="M441.7 1221.1H493"/><circle class="s6" cx="441.7" cy="1221.1" r="3.5"/><text class="ts" x="501" y="1223.4">S00741_10-Jul-2012</text></g>
<g id="sl-S01191"><path class="dt" d="M453.5 1247H493"/><circle class="s6" cx="453.5" cy="1247" r="3.5"/><text class="ts" x="501" y="1249.3">S01191_14-Mar-2013</text></g>
<g id="sl-S00700"><path class="dt" d="M429.8 1272.9H493"/><circle class="s1" cx="429.8" cy="1272.9" r="3.5"/><text class="ts" x="501" y="1275.2">S00700_23-Jul-2012</text></g>
<g id="sl-S00866"><path class="dt" d="M453.9 1298.9H493"/><circle class="s5" cx="453.9" cy="1298.9" r="3.5"/><text class="ts" x="501" y="1301.2">S00866_10-Sep-2012</text></g>
<g id="sl-S00972"><path class="dt" d="M467.4 1324.8H493"/><circle class="s10" cx="467.4" cy="1324.8" r="3.5"/><text class="ts" x="501" y="1327.1">S00972_12-Nov-2012</text></g>
<g id="sl-S01797"><circle class="s6" cx="493" cy="1350.7" r="3.5"/><text class="ts" x="501" y="1353">S01797_01-Aug-2013</text></g>

<!-- ===== South Africa (status) tips ===== -->
<g id="sr-S01785"><circle class="cs" cx="986.7" cy="770" r="3.2"/><text class="tsr" x="992.7" y="771.8">S01785_29-Jul-2013</text></g>
<g id="sr-S01154"><circle class="cs" cx="998.7" cy="795.5" r="3.2"/><text class="tsr" x="1004.7" y="797.3">S01154_22-Jan-2013</text></g>
<g id="sr-S01056"><circle class="cs" cx="976.3" cy="820.9" r="3.2"/><text class="tsr" x="982.3" y="822.7">S01056_31-Dec-2012</text></g>
<g id="sr-S00357"><circle class="cs" cx="943.3" cy="846.4" r="3.2"/><text class="tsr" x="949.3" y="848.2">S00357_08-Dec-2011</text></g>
<g id="sr-S01670"><circle class="cs" cx="998.7" cy="871.8" r="3.2"/><text class="tsr" x="1004.7" y="873.6">S01670_23-Jun-2013</text></g>
<g id="sr-S00151"><circle class="cs" cx="988" cy="897.3" r="3.2"/><text class="tsr" x="994" y="899.1">S00151_26-Sep-2011</text></g>
<g id="sr-S00025"><circle class="cs" cx="1015.7" cy="922.7" r="3.2"/><text class="tsr" x="1021.7" y="924.5">S00025_22-Aug-2011</text></g>
<g id="sr-S00169"><circle class="cs" cx="991.7" cy="948.2" r="3.2"/><text class="tsr" x="997.7" y="950">S00169_07-Oct-2011</text></g>
<g id="sr-S01021"><circle class="ct" cx="682.7" cy="973.6" r="3.2"/><text class="tsr" x="688.7" y="975.4">S01021_05-Oct-2012</text></g>
<g id="sr-S00741"><circle class="ct" cx="965.3" cy="999.1" r="3.2"/><text class="tsr" x="971.3" y="1000.9">S00741_10-Jul-2012</text></g>
<g id="sr-S01191"><circle class="cs" cx="977.3" cy="1024.5" r="3.2"/><text class="tsr" x="983.3" y="1026.3">S01191_14-Mar-2013</text></g>
<g id="sr-S00700"><circle class="cs" cx="954" cy="1050" r="3.2"/><text class="tsr" x="960" y="1051.8">S00700_23-Jul-2012</text></g>
<g id="sr-S00866"><circle class="cs" cx="977.7" cy="1075.4" r="3.2"/><text class="tsr" x="983.7" y="1077.2">S00866_10-Sep-2012</text></g>
<g id="sr-S00972"><circle class="cs" cx="990.3" cy="1100.9" r="3.2"/><text class="tsr" x="996.3" y="1102.7">S00972_12-Nov-2012</text></g>
<g id="sr-S01797"><circle class="cs" cx="1015.7" cy="1126.3" r="3.2"/><text class="tsr" x="1021.7" y="1128.1">S01797_01-Aug-2013</text></g>

<!-- ===== Gambia (status) tips ===== -->
<g id="g-G00261"><path class="dt" d="M939 1153.3H1016"/><circle class="cs" cx="939" cy="1153.3" r="3.7"/><text class="tg" x="1026" y="1156.1">G00261_03-Apr-2012</text></g>
<g id="g-G00542"><path class="dt" d="M963.7 1170.4H1016"/><circle class="cs" cx="963.7" cy="1170.4" r="3.7"/><text class="tg" x="1026" y="1173.2">G00542_03-Sep-2012</text></g>
<g id="g-G00474"><path class="dt" d="M925.7 1187.4H1016"/><circle class="cs" cx="925.7" cy="1187.4" r="3.7"/><text class="tg" x="1026" y="1190.2">G00474_23-Jul-2012</text></g>
<g id="g-G00546"><path class="dt" d="M913.7 1204.5H1016"/><circle class="cs" cx="913.7" cy="1204.5" r="3.7"/><text class="tg" x="1026" y="1207.3">G00546_05-Sep-2012</text></g>
<g id="g-G00539"><path class="dt" d="M951.7 1221.6H1016"/><circle class="cs" cx="951.7" cy="1221.6" r="3.7"/><text class="tg" x="1026" y="1224.4">G00539_31-Aug-2012</text></g>
<g id="g-G00587"><path class="dt" d="M901.3 1238.7H1016"/><circle class="ct" cx="901.3" cy="1238.7" r="3.7"/><text class="tg" x="1026" y="1241.5">G00587_24-Sep-2012</text></g>
<g id="g-G00471"><path class="dt" d="M913.7 1255.7H1016"/><circle class="cs" cx="913.7" cy="1255.7" r="3.7"/><text class="tg" x="1026" y="1258.5">G00471_22-Jul-2012</text></g>
<g id="g-G00515"><path class="dt" d="M913.7 1272.8H1016"/><circle class="cs" cx="913.7" cy="1272.8" r="3.7"/><text class="tg" x="1026" y="1275.6">G00515_23-Aug-2012</text></g>
<g id="g-G00486"><path class="dt" d="M913.7 1289.9H1016"/><circle class="cs" cx="913.7" cy="1289.9" r="3.7"/><text class="tg" x="1026" y="1292.7">G00486_04-Aug-2012</text></g>
<g id="g-G00466"><path class="dt" d="M913.7 1306.9H1016"/><circle class="ct" cx="913.7" cy="1306.9" r="3.7"/><text class="tg" x="1026" y="1309.7">G00466_19-Jul-2012</text></g>
<g id="g-G00478"><path class="dt" d="M913.7 1324H1016"/><circle class="cs" cx="913.7" cy="1324" r="3.7"/><text class="tg" x="1026" y="1326.8">G00478_29-Jul-2012</text></g>
<g id="g-G00564"><path class="dt" d="M901.3 1341.1H1016"/><circle class="cs" cx="901.3" cy="1341.1" r="3.7"/><text class="tg" x="1026" y="1343.9">G00564_13-Sep-2012</text></g>
<g id="g-G00392"><path class="dt" d="M991 1358.1H1016"/><circle class="ct" cx="991" cy="1358.1" r="3.7"/><text class="tg" x="1026" y="1360.9">G00392_08-Jun-2012</text></g>
<g id="g-G00427"><path class="dt" d="M991 1375.2H1016"/><circle class="cs" cx="991" cy="1375.2" r="3.7"/><text class="tg" x="1026" y="1378">G00427_01-Jul-2012</text></g>
<g id="g-G00534"><circle class="ct" cx="1016.7" cy="1392.3" r="3.7"/><text class="tg" x="1026" y="1395.1">G00534_30-Aug-2012</text></g>
<g id="g-G00519"><path class="dt" d="M1003.7 1409.4H1016"/><circle class="cs" cx="1003.7" cy="1409.4" r="3.7"/><text class="tg" x="1026" y="1412.2">G00519_24-Aug-2012</text></g>
<g id="g-G00485"><path class="dt" d="M889 1426.4H1016"/><circle class="cs" cx="889" cy="1426.4" r="3.7"/><text class="tg" x="1026" y="1429.2">G00485_03-Aug-2012</text></g>
<g id="g-G00521"><path class="dt" d="M913.7 1443.5H1016"/><circle class="cs" cx="913.7" cy="1443.5" r="3.7"/><text class="tg" x="1026" y="1446.3">G00521_25-Aug-2012</text></g>
<g id="g-G00481"><path class="dt" d="M978.7 1460.6H1016"/><circle class="cs" cx="978.7" cy="1460.6" r="3.7"/><text class="tg" x="1026" y="1463.4">G00481_01-Aug-2012</text></g>
<g id="g-G00545"><path class="dt" d="M1014.3 1477.6H1016"/><circle class="cs" cx="1014.3" cy="1477.6" r="3.7"/><text class="tg" x="1026" y="1480.4">G00545_05-Sep-2012</text></g>
<g id="g-G00631"><path class="dt" d="M989 1494.7H1016"/><circle class="ct" cx="989" cy="1494.7" r="3.7"/><text class="tg" x="1026" y="1497.5">G00631_18-Oct-2012</text></g>
<g id="g-G00479"><path class="dt" d="M1000.7 1511.8H1016"/><circle class="cs" cx="1000.7" cy="1511.8" r="3.7"/><text class="tg" x="1026" y="1514.6">G00479_29-Jul-2012</text></g>
<g id="g-G00476"><path class="dt" d="M975 1528.9H1016"/><circle class="cs" cx="975" cy="1528.9" r="3.7"/><text class="tg" x="1026" y="1531.7">G00476_28-Jul-2012</text></g>
<g id="g-G00549"><path class="dt" d="M975 1545.9H1016"/><circle class="cs" cx="975" cy="1545.9" r="3.7"/><text class="tg" x="1026" y="1548.7">G00549_09-Sep-2012</text></g>
<g id="g-G00548"><circle class="cs" cx="1016.7" cy="1563" r="3.7"/><text class="tg" x="1026" y="1565.8">G00548_07-Sep-2012</text></g>
</svg>
